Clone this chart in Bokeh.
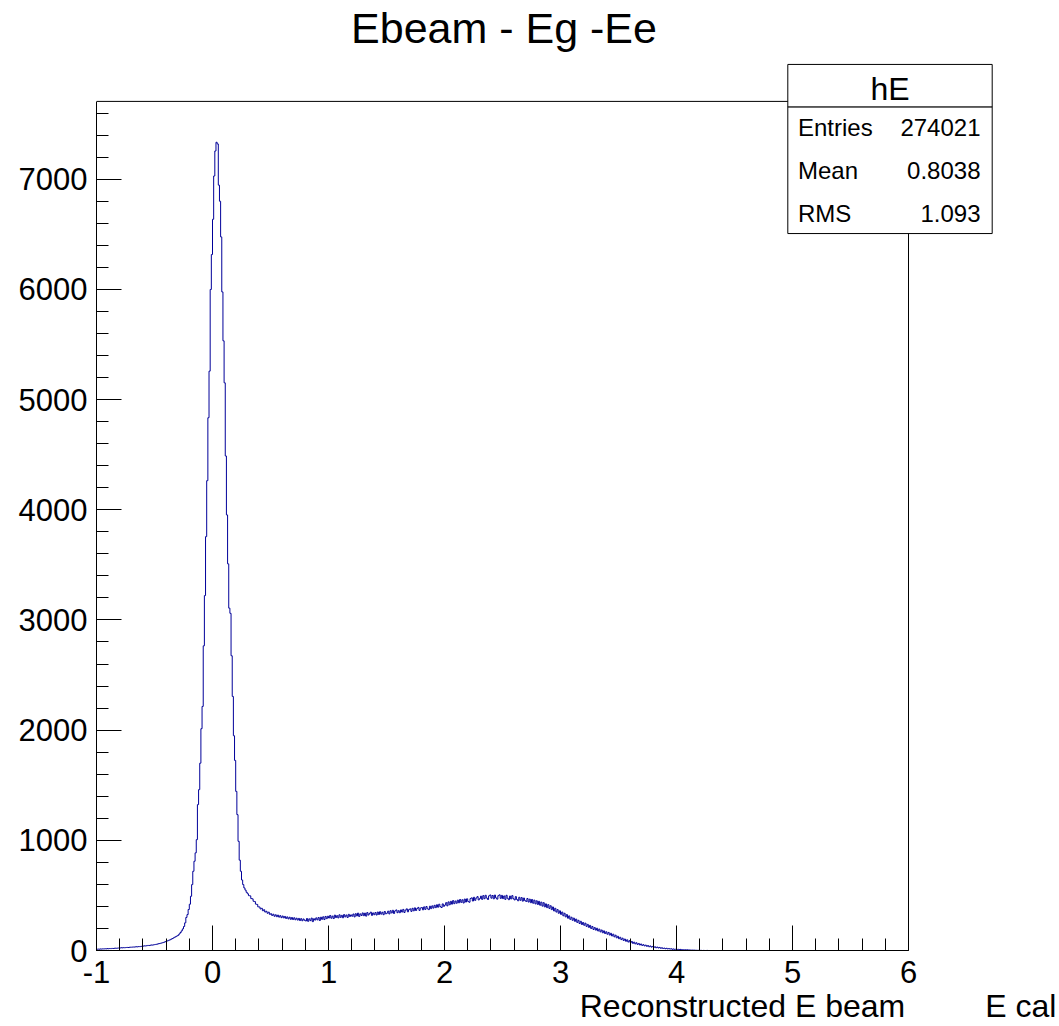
import numpy as np
from bokeh.plotting import figure
from bokeh.models import Range1d, FixedTicker, Label, BoxAnnotation
from bokeh.embed import file_html
from bokeh.resources import INLINE

# ---------------- data ----------------
X_MIN, X_MAX, N_BINS = -1.0, 6.0, 700
Y_MAX = 7706

# bin contents (bin width 0.01)
left_tail = [
    11, 13, 12, 14, 13, 15, 14, 16, 15, 17,
    16, 18, 17, 19, 18, 20, 21, 20, 22, 23,
    23, 25, 24, 26, 25, 27, 28, 27, 29, 30,
    30, 32, 31, 33, 34, 33, 36, 35, 37, 39,
    40, 42, 41, 44, 46, 45, 48, 50, 49, 52,
    54, 56, 58, 61, 63, 66, 69, 72, 76, 80,
    85, 88, 93, 97, 103, 108, 114, 120, 126, 132,
    138, 150, 163, 178, 196, 218, 251, 300, 326, 372,
]
peak = [
    420, 492, 598, 719, 810, 886, 1006, 1324, 1460, 1700,
    2013, 2215, 2765, 3221, 3756, 4264, 4835, 5258, 5999, 6316,
    6636, 7029, 7256, 7335, 7320, 6946, 6800, 6476, 5977, 5533,
    5152, 4488, 3953, 3509, 3107, 3060, 2675, 2306, 1949, 1725,
    1444, 1233, 991, 820, 719, 640, 598, 568, 548, 528,
    515, 498, 496, 471, 469, 447, 444, 421, 418, 396,
    395, 377, 383, 361, 370, 349, 356, 338, 348, 328,
]
plateau = [
    334, 318, 329, 311, 324, 307, 321, 303, 316, 298,
    313, 296, 309, 291, 305, 287, 302, 283, 299, 281,
    297, 279, 293, 276, 291, 272, 289, 270, 286, 274,
    268, 290, 265, 287, 271, 294, 262, 288, 276, 296,
    278, 299, 272, 302, 283, 306, 281, 309, 289, 311,
    295, 318, 293, 312, 290, 321, 299, 316, 296, 324,
    301, 319, 297, 326, 305, 322, 300, 328, 309, 323,
    311, 331, 305, 334, 314, 339, 309, 332, 318, 341,
    316, 339, 312, 344, 322, 336, 348, 319, 341, 325,
    344, 322, 349, 327, 352, 330, 347, 325, 354, 333,
    339, 357, 332, 361, 341, 365, 336, 359, 368, 343,
    361, 343, 368, 349, 373, 345, 366, 378, 351, 371,
    378, 355, 383, 360, 387, 363, 381, 391, 364, 385,
    390, 369, 396, 373, 399, 379, 371, 402, 380, 405,
    385, 410, 389, 415, 393, 420, 398, 390, 423, 401,
    412, 434, 405, 441, 415, 446, 421, 453, 425, 449,
    429, 457, 433, 463, 437, 460, 431, 467, 440, 469,
    445, 438, 471, 478, 449, 483, 455, 476, 489, 459,
    471, 493, 464, 498, 470, 501, 476, 463, 496, 504,
    475, 499, 469, 503, 478, 466, 497, 505, 473, 500,
    471, 495, 464, 501, 474, 461, 494, 468, 498, 470,
    459, 489, 463, 451, 483, 456, 480, 448, 476, 453,
    445, 472, 440, 466, 434, 463, 429, 457, 423, 451,
    418, 446, 411, 439, 403, 434, 396, 423, 389, 416,
    382, 406, 371, 395, 359, 383, 349, 371, 338, 360,
]
falloff = [
    328, 349, 315, 338, 305, 326, 293, 314, 283, 302,
    274, 294, 265, 285, 255, 274, 245, 265, 236, 254,
    229, 248, 219, 237, 210, 228, 200, 218, 191, 208,
    185, 202, 177, 194, 169, 186, 161, 178, 154, 170,
    148, 164, 140, 156, 132, 148, 124, 139, 115, 129,
    107, 120, 99, 112, 91, 104, 84, 97, 77, 89,
    71, 82, 65, 76, 60, 70, 55, 64, 50, 59,
    46, 53, 42, 49, 38, 45, 34, 41, 31, 37,
    28, 34, 25, 31, 23, 28, 20, 25, 18, 22,
    16, 20, 14, 18, 13, 16, 11, 14, 10, 12,
    9, 11, 8, 10, 7, 8, 6, 7, 5, 6,
    4, 5, 3, 4, 3, 3, 2, 2, 1, 2,
    1, 1, 0, 1, 0, 0, 1, 0, 0, 0,
]
empty = [
    0, 0, 0, 0, 0, 0, 0, 0, 0, 0,
    0, 0, 0, 0, 0, 0, 0, 0, 0, 0,
    0, 0, 0, 0, 0, 0, 0, 0, 0, 0,
    0, 0, 0, 0, 0, 0, 0, 0, 0, 0,
    0, 0, 0, 0, 0, 0, 0, 0, 0, 0,
    0, 0, 0, 0, 0, 0, 0, 0, 0, 0,
    0, 0, 0, 0, 0, 0, 0, 0, 0, 0,
    0, 0, 0, 0, 0, 0, 0, 0, 0, 0,
    0, 0, 0, 0, 0, 0, 0, 0, 0, 0,
    0, 0, 0, 0, 0, 0, 0, 0, 0, 0,
    0, 0, 0, 0, 0, 0, 0, 0, 0, 0,
    0, 0, 0, 0, 0, 0, 0, 0, 0, 0,
    0, 0, 0, 0, 0, 0, 0, 0, 0, 0,
    0, 0, 0, 0, 0, 0, 0, 0, 0, 0,
    0, 0, 0, 0, 0, 0, 0, 0, 0, 0,
    0, 0, 0, 0, 0, 0, 0, 0, 0, 0,
    0, 0, 0, 0, 0, 0, 0, 0, 0, 0,
]

x_ticks = [-1, 0, 1, 2, 3, 4, 5, 6]
y_ticks = [0, 1000, 2000, 3000, 4000, 5000, 6000, 7000]
x_tick_labels = ["-1", "0", "1", "2", "3", "4", "5", "6"]

title_text = "Ebeam - Eg -Ee"
x_title = "Reconstructed E beam"
extra_text = "E cal"
stats_name = "hE"
stats_labels = ["Entries", "Mean", "RMS"]
stats_values = ["274021", "0.8038", "1.093"]

# ---------------- build ----------------
counts = np.array(left_tail + peak + plateau + falloff + empty, dtype=float)
edges = np.linspace(X_MIN, X_MAX, N_BINS + 1)
step_y = np.append(counts, counts[-1])

FONT = "Liberation Sans"
NBSP = "\u00a0"
W, H = 1059, 1026
AX_L, AX_B = 96, 951            # page px of the ROOT frame's left / bottom edges
PX_X = 812 / (X_MAX - X_MIN)    # px per x unit
PX_Y = 850 / Y_MAX              # px per y unit


def dx(px):
    return X_MIN + (px - AX_L) / PX_X


def dy(py):
    return (AX_B - py) / PX_Y


p = figure(
    width=W, height=H,
    x_range=Range1d(X_MIN, dx(W)), y_range=Range1d(0, dy(0)),
    output_backend="svg", toolbar_location=None, title=None,
    min_border_left=AX_L, min_border_right=0,
    min_border_top=0, min_border_bottom=H - AX_B,
    background_fill_color="white", border_fill_color="white",
)
p.outline_line_color = None
p.xgrid.visible = False
p.ygrid.visible = False

# histogram
p.step(edges, step_y, mode="after", line_color="#000099", line_width=1)

# ROOT frame: top and right sides
p.line([X_MIN, X_MAX, X_MAX], [Y_MAX, Y_MAX, 0], line_color="black", line_width=1)

x_minor = [round(X_MIN + 0.2 * i, 2) for i in range(36)]
y_minor = [200 * i for i in range(39)]

xa = p.xaxis[0]
xa.ticker = FixedTicker(ticks=x_ticks, minor_ticks=x_minor)
xa.major_label_overrides = {t: s for t, s in zip(x_ticks, x_tick_labels)}
xa.bounds = (X_MIN, X_MAX)
ya = p.yaxis[0]
ya.ticker = FixedTicker(ticks=y_ticks, minor_ticks=y_minor)
ya.bounds = (0, Y_MAX)

for ax in (xa, ya):
    ax.axis_line_color = "black"
    ax.axis_line_width = 1
    ax.major_tick_line_color = "black"
    ax.minor_tick_line_color = "black"
    ax.major_tick_in = 25
    ax.major_tick_out = 0
    ax.minor_tick_in = 12
    ax.minor_tick_out = 0
    ax.major_label_text_font = FONT
    ax.major_label_text_font_size = "31px"
    ax.major_label_text_color = "black"
xa.major_label_standoff = 10
ya.major_label_standoff = 9

# x-axis title line ("Reconstructed E beam" ... "E cal"); centred on the frame,
# padded on the left so that it ends near the right edge like the original
xa.axis_label = NBSP * 54 + x_title + NBSP * 9 + extra_text
xa.axis_label_text_font = FONT
xa.axis_label_text_font_size = "32px"
xa.axis_label_text_font_style = "normal"
xa.axis_label_text_color = "black"
xa.axis_label_standoff = 2


def add_text(px, py, text, size, align):
    p.add_layout(Label(x=dx(px), y=dy(py), text=text, text_font=FONT,
                       text_font_size=size, text_align=align,
                       text_baseline="alphabetic", text_color="black", level="overlay"))


# title (baseline positions corrected for the renderer's baseline offset)
add_text(503.5, 44 - 16, title_text, "43px", "center")

# stats box
box_l, box_r, box_t, box_div, box_b = 787.3, 991.7, 64, 106.7, 233.3
p.add_layout(BoxAnnotation(left=dx(box_l), right=dx(box_r), top=dy(box_t), bottom=dy(box_div),
                           fill_color="white", fill_alpha=1.0, line_color="black",
                           line_width=1, line_alpha=1.0, level="overlay"))
p.add_layout(BoxAnnotation(left=dx(box_l), right=dx(box_r), top=dy(box_div), bottom=dy(box_b),
                           fill_color="white", fill_alpha=1.0, line_color="black",
                           line_width=1, line_alpha=1.0, level="overlay"))
add_text((box_l + box_r) / 2, 99.5 - 11, stats_name, "32px", "center")
for i, (lab, val) in enumerate(zip(stats_labels, stats_values)):
    base = 137.5 + 43 * i - 10
    add_text(797.5, base, lab, "24px", "left")
    add_text(980, base, val, "24px", "right")

open("out.html", "w").write(file_html(p, INLINE))
